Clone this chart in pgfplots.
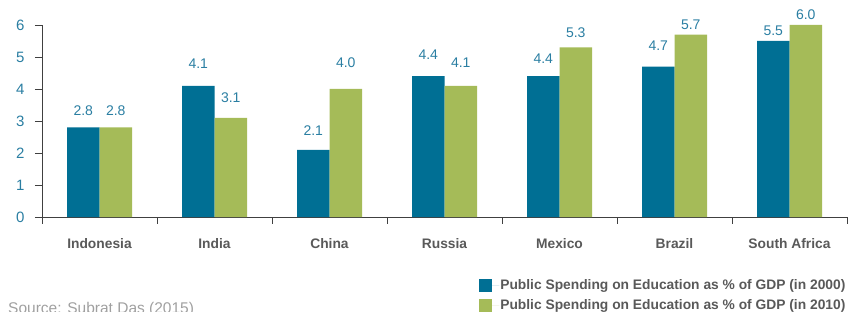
\documentclass[border=0pt]{standalone}
\usepackage{pgfplots}
\usepackage{pgfplotstable}
\pgfplotsset{compat=1.18}
\usepackage{fontspec}
\setmainfont{Liberation Sans}
\definecolor{cblue}{HTML}{006F94}
\definecolor{cgreen}{HTML}{A5BB58}
\definecolor{cteal}{HTML}{2A7EA2}
\definecolor{cgray}{HTML}{595959}
\definecolor{caxis}{HTML}{404040}
\definecolor{csrc}{HTML}{A0A0A0}
% off = gap (bp) between bar top and label baseline, as in the reference
\pgfplotstableread{
x y off
0 2.8 11.7
1 4.1 17
2 2.1 13.7
3 4.4 16.7
4 4.4 12.7
5 4.7 15.6
6 5.5 5
}\tA
\pgfplotstableread{
x y off
0 2.8 11.7
1 3.1 15
2 4.0 21
3 4.1 17.7
4 5.3 10
5 5.7 5
6 6.0 5
}\tB
\begin{document}
\begin{tikzpicture}
\path[use as bounding box] (0,0) rectangle (850bp,312bp);
\begin{axis}[
 at={(42bp,95bp)}, anchor=south west,
 scale only axis, width=805bp, height=192bp,
 xmin=-0.5, xmax=6.5, ymin=0, ymax=6,
 axis x line*=bottom, axis y line*=left,
 axis line style={caxis, line width=0.8bp, -},
 tick style={caxis, line width=0.8bp},
 tick align=outside, major tick length=7bp,
 ybar=0pt, bar width=32.5bp,
 xtick={-0.5,0.5,...,6.5},
 x tick label as interval,
 xticklabels={Indonesia,India,China,Russia,Mexico,Brazil,South Africa},
 x tick label style={font=\fontsize{13.8bp}{15bp}\selectfont\bfseries, text=cgray, anchor=base, yshift=-24bp},
 ytick={0,...,6},
 y tick label style={font=\fontsize{15bp}{17bp}\selectfont, text=cteal, xshift=-7bp, /pgf/number format/assume math mode=true},
 nodes near coords={\pgfmathprintnumber[fixed,fixed zerofill,precision=1,assume math mode=true]{\pgfplotspointmeta}},
 visualization depends on={\thisrow{off}\as\off},
 every node near coord/.append style={font=\fontsize{14bp}{16bp}\selectfont, text=cteal, anchor=south, inner sep=0pt, yshift=\off*1bp},
 legend style={draw=none, fill=none, at={(0.543,-0.318)}, anchor=north west, inner sep=0pt,
   font=\fontsize{13.8bp}{15bp}\selectfont\bfseries, text=cgray, row sep=7bp,
   nodes={inner sep=1bp}},
 legend cell align=left,
 clip=false,
]
\addplot[fill=cblue, draw=none, legend image code/.code={\fill[cblue] (0bp,-6.5bp) rectangle (13bp,6.5bp); \path (0bp,0bp) -- (20bp,0bp);}]
 table[x=x, y=y] {\tA};
\addplot[fill=cgreen, draw=none, legend image code/.code={\fill[cgreen] (0bp,-6.5bp) rectangle (13bp,6.5bp); \path (0bp,0bp) -- (20bp,0bp);}]
 table[x=x, y=y] {\tB};
\legend{Public Spending on Education as \% of GDP (in 2000), Public Spending on Education as \% of GDP (in 2010)}
\end{axis}
\node[anchor=base west, inner sep=0pt, font=\fontsize{15.5bp}{17bp}\selectfont, text=csrc] at (8bp,-1.5bp) {Source: Subrat Das (2015)};
\end{tikzpicture}
\end{document}
